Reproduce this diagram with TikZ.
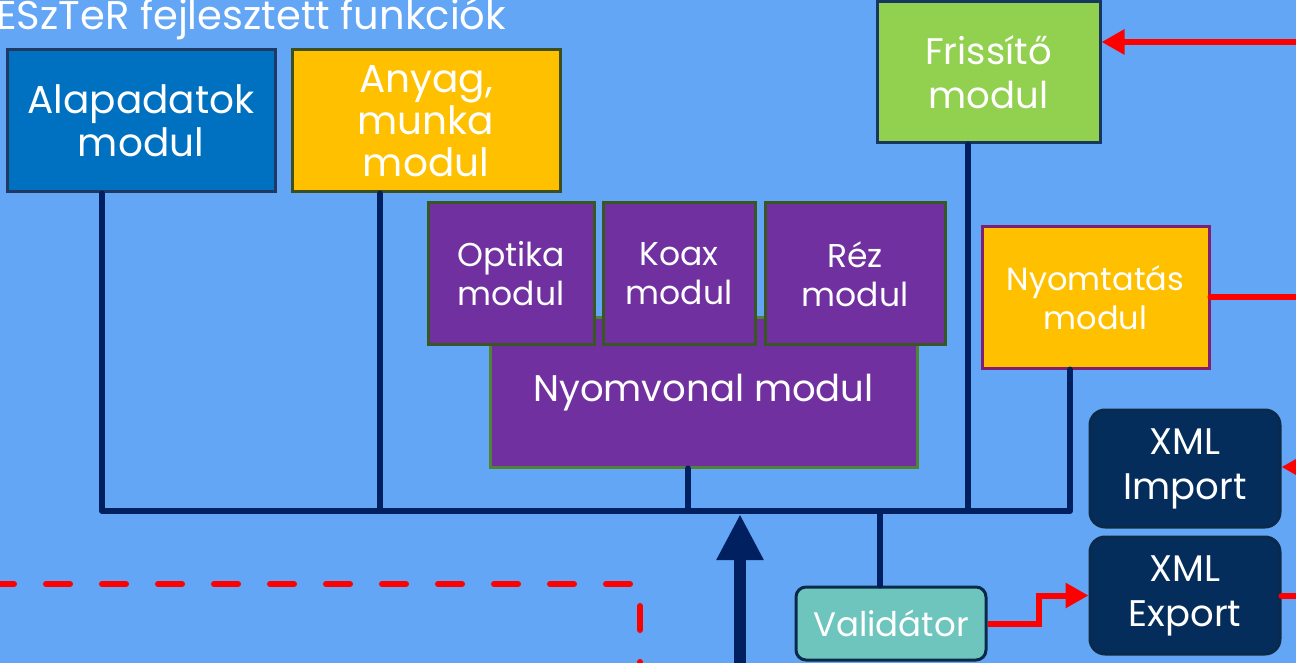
\documentclass[tikz,border=0pt]{standalone}
\usepackage{fontspec}
\setmainfont{Poppins}
\usetikzlibrary{arrows.meta}

\begin{document}
\begin{tikzpicture}[x=0.5pt,y=-0.5pt,
		modul/.style={draw,line width=1.5pt,text=white,align=center,inner sep=0pt},
		bus/.style={draw=cbus,line width=3pt,line cap=round,line join=round},
		piros/.style={draw=cred,line width=3pt},
		piroshegy/.style={piros,-{Triangle[width=12pt,length=11.5pt]}}]
				\definecolor{cbg}{HTML}{63A6F5}
				\definecolor{cbus}{HTML}{002060}
				\definecolor{cred}{HTML}{FF0000}
				\definecolor{cAlap}{HTML}{0070C0}
				\definecolor{cAlapK}{HTML}{1F3864}
				\definecolor{cSarga}{HTML}{FFC000}
				\definecolor{cSargaK}{HTML}{3D4F1C}
				\definecolor{cZold}{HTML}{92D050}
				\definecolor{cZoldK}{HTML}{17375E}
				\definecolor{cLila}{HTML}{7030A0}
				\definecolor{cLilaK}{HTML}{385723}
				\definecolor{cNyomK}{HTML}{548235}
				\definecolor{cNyomtK}{HTML}{7F1F6F}
				\definecolor{cXml}{HTML}{052D5C}
				\definecolor{cXmlK}{HTML}{0B2A4A}
				\definecolor{cVal}{HTML}{6EC5BE}
				%
				\useasboundingbox (0,0) rectangle (1296,663);
				\clip (0,0) rectangle (1296,663);
				\fill[cbg] (0,0) rectangle (1296,663);
				%
				\node[anchor=base west,text=white,inner sep=0pt,font=\fontsize{20}{24}\selectfont] (cim) at (-4,30) {ESzTeR fejlesztett funkciók};
				%
				\node[modul,fill=cAlap,draw=cAlapK,minimum width=134pt,minimum height=71pt,font=\fontsize{19.5}{21.5}\selectfont] (alap) at (141,121) {Alapadatok\\modul};
				\node[modul,fill=cSarga,draw=cSargaK,minimum width=134pt,minimum height=71pt,font=\fontsize{19.5}{21}\selectfont] (anyag) at (426,121) {Anyag,\\munka\\modul};
				\node[modul,fill=cZold,draw=cZoldK,minimum width=111.5pt,minimum height=70.5pt,font=\fontsize{18.5}{22}\selectfont] (frissito) at (988.5,72.5) {Frissítő\\modul};
				\node[modul,fill=cLila,draw=cNyomK,minimum width=213.5pt,minimum height=74.5pt,font=\fontsize{18.5}{22}\selectfont] (nyomvonal) at (703.5,392.5) {Nyomvonal modul};
				\node[modul,fill=cLila,draw=cLilaK,minimum width=83pt,minimum height=71pt,font=\fontsize{16.5}{19.5}\selectfont] (optika) at (511,274) {Optika\\modul};
				\node[modul,fill=cLila,draw=cLilaK,minimum width=76pt,minimum height=71pt,font=\fontsize{16.5}{19.5}\selectfont] (koax) at (679,274) {Koax\\modul};
				\node[modul,fill=cLila,draw=cLilaK,minimum width=90pt,minimum height=71pt,font=\fontsize{16.5}{19.5}\selectfont] (rez) at (855,274) {Réz\\modul};
				\node[modul,fill=cSarga,draw=cNyomtK,minimum width=113.5pt,minimum height=70.5pt,font=\fontsize{16}{19.5}\selectfont] (nyomtatas) at (1095.5,297.5) {Nyomtatás\\modul};
				\node[modul,fill=cXml,draw=cXmlK,rounded corners=7.5pt,minimum width=95pt,minimum height=58.5pt,font=\fontsize{18.5}{22.5}\selectfont] (import) at (1185,468.5) {XML\\Import};
				\node[modul,fill=cXml,draw=cXmlK,rounded corners=7.5pt,minimum width=95pt,minimum height=58.5pt,font=\fontsize{18.5}{22.5}\selectfont] (export) at (1185,595.5) {XML\\Export};
				\node[modul,fill=cVal,draw=cXmlK,rounded corners=5pt,minimum width=95pt,minimum height=36.5pt,font=\fontsize{17}{20}\selectfont] (validator) at (891,623.5) {Validátor};
				%
				\coordinate (busL) at (102,511);
				\coordinate (busR) at (1070,511);
				\coordinate (anyagT) at (380,511);
				\coordinate (nyomT) at (688,511);
				\coordinate (frissT) at (968,511);
				\coordinate (valT) at (880,511);
				\coordinate (beLent) at (740,663);
				\coordinate (beFent) at (740,514);
				%
				\draw[bus] (busL |- alap.south) -- (busL) -- (busR) -- (busR |- nyomtatas.south);
				\draw[bus] (anyagT |- anyag.south) -- (anyagT);
				\draw[bus] (nyomT |- nyomvonal.south) -- (nyomT);
				\draw[bus] (frissT |- frissito.south) -- (frissT);
				\draw[bus] (valT) -- (valT |- validator.north);
				\draw[draw=cbus,line width=6pt,-{Triangle[width=22pt,length=23pt]}] (beLent) -- (beFent);
				%
				\coordinate (frissBe) at (1296,42);
				\coordinate (nyomtKi) at (1296,297);
				\coordinate (importBe) at (1340,467);
				\coordinate (exportKi) at (1296,596);
				\coordinate (szagA) at (0,584);
				\coordinate (szagB) at (640,584);
				\coordinate (szagC) at (640,663);
				%
				\draw[piroshegy] (frissBe) -- (frissBe -| frissito.east);
				\draw[piros,line cap=round] (nyomtatas.east |- nyomtKi) -- (nyomtKi);
				\draw[piroshegy] (importBe) -- (importBe -| import.east);
				\draw[piros,line cap=round] (export.east |- exportKi) -- (exportKi);
				\draw[piroshegy] (validator.east) -- ++(51,0) |- (export.west);
				\draw[piros,line cap=round,dash pattern=on 12pt off 16pt,dash phase=5pt] (szagA) -- (szagB) -- (szagC);
				%
			\end{tikzpicture}
\end{document}
